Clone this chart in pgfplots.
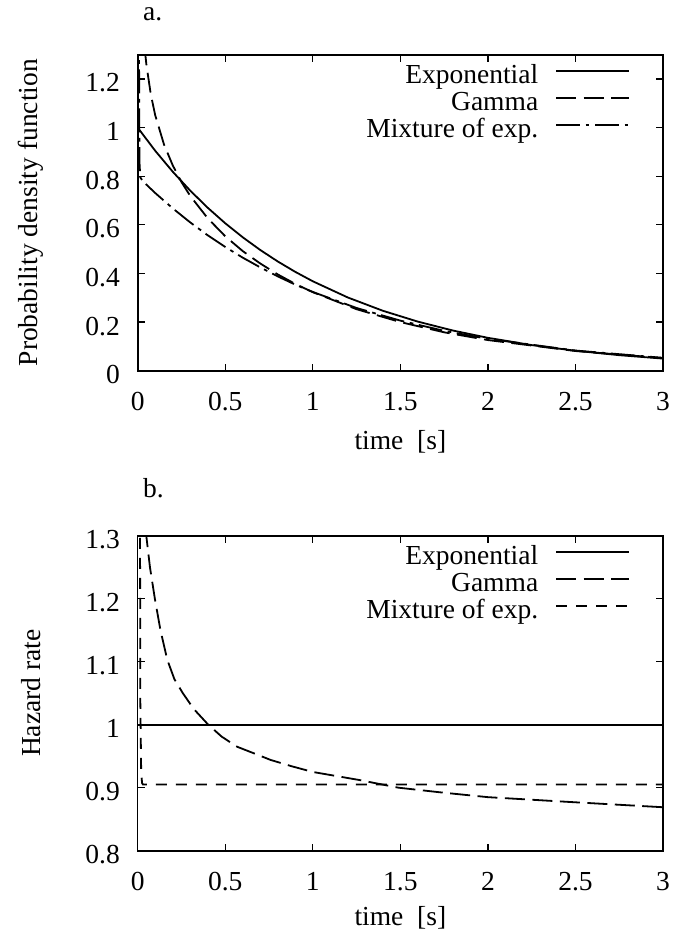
\documentclass[border=0pt]{standalone}
\usepackage{fontspec}
\setmainfont{Liberation Serif}
\usepackage{pgfplots}
\pgfplotsset{compat=1.18}

% gnuplot-like look shared by both panels
\pgfplotsset{
  gp/.style={
    scale only axis, width=525.3pt,
    xmin=0, xmax=3, xtick={0,0.5,1,1.5,2,2.5,3},
    tick align=inside, major tick length=7pt,
    tick style={line width=1.2pt, black},
    axis line style={line width=1.6pt},
    /pgf/number format/assume math mode=true,
    yticklabel style={inner sep=0pt, anchor=east, xshift=-17.7pt, yshift=-4pt},
    xticklabel style={inner sep=0pt, anchor=north, yshift=-21.7pt},
    xlabel={time~~[s]},
    legend plot pos=right,
    legend cell align=right,
    legend style={draw=none, fill=none, inner sep=0pt, outer sep=0pt,
      at={(1,1)}, anchor=north east, xshift=-33pt, yshift=-9.7pt,
      column sep=17pt, row sep=1.1pt,
      nodes={inner sep=0pt, text height=19pt, text depth=7.1pt}},
    legend image code/.code={\draw[#1] (0pt,6.7pt) -- (73pt,6.7pt);},
    title style={inner sep=0pt, anchor=base west, yshift=0pt},
  },
}

\begin{document}
\fontsize{27.5}{33}\selectfont
\begin{tikzpicture}
\useasboundingbox (0,0) rectangle (680pt,-931pt);

% ---- a. probability density function
\begin{axis}[gp, at={(137.7pt,-370.7pt)}, anchor=south west, height=316pt,
  ymin=0, ymax=1.3, ytick={0,0.2,0.4,0.6,0.8,1,1.2},
  ylabel={Probability density function},
  ylabel style={at={(axis description cs:-0.2031,0.5)}, anchor=center},
  xlabel style={at={(axis description cs:0.5,-0.2247)}, anchor=center},
  title={a.}, title style={at={(axis description cs:0.0101,1.0900)}},
]
\addplot[line width=1.8pt] table {
t f
0 1.0000
0.1 0.9048
0.2 0.8187
0.3 0.7408
0.4 0.6703
0.5 0.6065
0.6 0.5488
0.7 0.4966
0.8 0.4493
0.9 0.4066
1.0 0.3679
1.2 0.3012
1.4 0.2466
1.6 0.2019
1.8 0.1653
2.0 0.1353
2.25 0.1054
2.5 0.0821
2.75 0.0639
3.0 0.0498
};
\addlegendentry{Exponential}

\addplot[line width=1.8pt, dash pattern=on 20pt off 7.5pt] table {
t f
0.01 1.790
0.02 1.546
0.03 1.414
0.04 1.325
0.05 1.257
0.075 1.136
0.1 1.051
0.15 0.931
0.2 0.845
0.25 0.776
0.3 0.719
0.4 0.627
0.5 0.553
0.6 0.492
0.7 0.441
0.8 0.396
0.9 0.357
1.0 0.323
1.25 0.253
1.5 0.200
1.75 0.158
2.0 0.126
2.5 0.081
3.0 0.052
};
\addlegendentry{Gamma}

\addplot[line width=1.8pt, dash pattern=on 24pt off 5.6pt on 3.7pt off 5.6pt] table {
t f
0 3.000
0.006 1.600
0.01 0.860
0.015 0.795
0.03 0.779
0.1 0.731
0.2 0.668
0.3 0.610
0.4 0.557
0.5 0.509
0.6 0.465
0.7 0.425
0.8 0.388
0.9 0.354
1.0 0.324
1.25 0.258
1.5 0.206
1.75 0.164
2.0 0.131
2.5 0.083
3.0 0.053
};
\addlegendentry{Mixture of exp.}
\end{axis}

% ---- b. hazard rate
\begin{axis}[gp, at={(137.7pt,-850.7pt)}, anchor=south west, height=315pt,
  ymin=0.8, ymax=1.3, ytick={0.8,0.9,1,1.1,1.2,1.3},
  ylabel={Hazard rate},
  ylabel style={at={(axis description cs:-0.2031,0.5)}, anchor=center},
  xlabel style={at={(axis description cs:0.5,-0.2127)}, anchor=center},
  title={b.}, title style={at={(axis description cs:0.0101,1.1038)}},
]
\addplot[line width=1.8pt] table {
t h
0 1
3 1
};
\addlegendentry{Exponential}

\addplot[line width=1.8pt, dash pattern=on 20pt off 7.5pt] table {
t h
0.02 1.75
0.035 1.40
0.049 1.30
0.07 1.25
0.098 1.20
0.13 1.15
0.169 1.103
0.21 1.072
0.258 1.05
0.32 1.025
0.403 1.00
0.48 0.981
0.568 0.965
0.66 0.955
0.76 0.944
0.88 0.934
1.0 0.925
1.27 0.912
1.49 0.900
1.75 0.892
2.0 0.885
2.49 0.877
3.0 0.869
};
\addlegendentry{Gamma}

\addplot[line width=1.8pt, dash pattern=on 11pt off 9pt] table {
t h
0.005 7.9
0.01 1.87
0.015 1.037
0.02 0.923
0.025 0.9075
0.03 0.905
3.0 0.905
};
\addlegendentry{Mixture of exp.}
\end{axis}
\end{tikzpicture}
\end{document}
